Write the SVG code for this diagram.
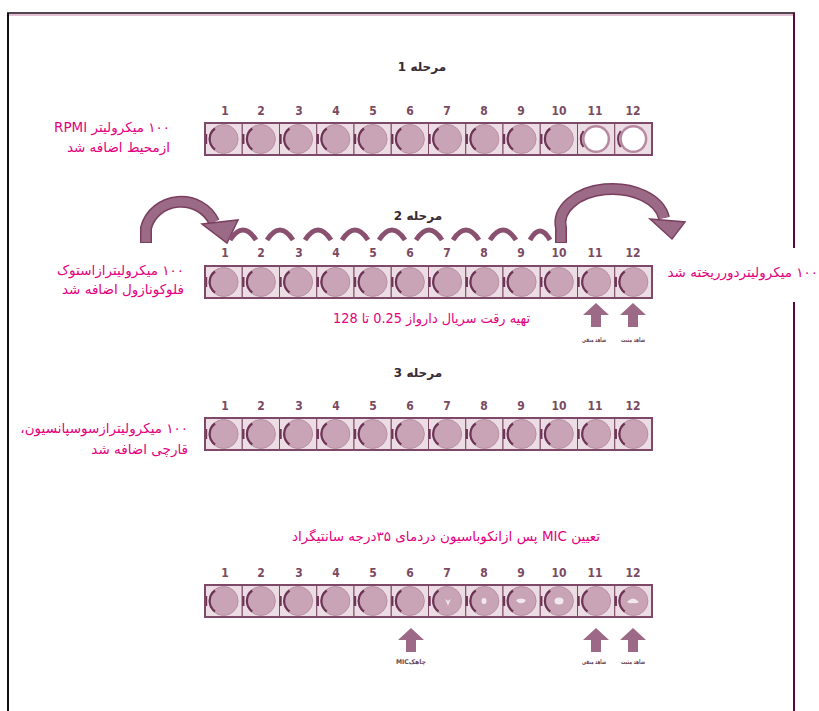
<svg xmlns="http://www.w3.org/2000/svg" xmlns:xlink="http://www.w3.org/1999/xlink" width="819" height="711" viewBox="0 0 819 711">
<style>
.num{font-family:"DejaVu Sans Condensed","DejaVu Sans",sans-serif;font-size:12px;font-weight:bold;fill:#7a4a62;text-anchor:middle}
.title{font-family:"DejaVu Sans",sans-serif;font-size:12px;font-weight:bold;fill:#3a2a33;text-anchor:middle}
.pink{font-family:"DejaVu Sans",sans-serif;font-size:13.5px;fill:#e5007d}
.small{font-family:"DejaVu Sans Condensed","DejaVu Sans",sans-serif;font-size:6.5px;font-weight:bold;fill:#6a4a5a;text-anchor:middle}
.strip{fill:none;stroke:#7e4868;stroke-width:2}
.up{fill:#9c6a86}
.hop{fill:none;stroke:#8a5070;stroke-width:5;stroke-linecap:butt}
.big{fill:none;stroke:#9a6a86;stroke-width:9}
.bigo{fill:none;stroke:#7a3f5e;stroke-width:12}
</style>
<defs>
<g id="well">
<rect x="0" y="0" width="37.25" height="32" fill="#ecdce4" stroke="#7e4868" stroke-width="1"/>
<circle cx="18.6" cy="16" r="14.5" fill="#c9a4b7" stroke="#b890a4" stroke-width="1"/>
<path d="M10 5.5 A13 13 0 0 0 10 26.5" fill="none" stroke="#6e3456" stroke-width="2.2"/>
<rect x="0" y="11" width="2.2" height="10" fill="#6e3456"/>
</g>
<g id="wellw">
<rect x="0" y="0" width="37.25" height="32" fill="#ecdce4" stroke="#7e4868" stroke-width="1"/>
<circle cx="18.6" cy="16" r="14" fill="#b88aa2"/>
<circle cx="18.6" cy="16" r="11.5" fill="#ffffff"/>
<path d="M6 8 A13 13 0 0 0 6 24" fill="none" stroke="#6e3456" stroke-width="2"/>
</g>
<path id="uparrow" d="M0 0 L13 12 L5 12 L5 24 L-5 24 L-5 12 L-13 12 Z"/>
</defs>

<g id="frame">
<line x1="7" y1="13" x2="795" y2="13" stroke="#1a0a14" stroke-width="1.5"/>
<line x1="8" y1="15" x2="794" y2="15" stroke="#d8aac2" stroke-width="1.5"/>
<line x1="8" y1="13" x2="8" y2="711" stroke="#111" stroke-width="2"/>
<line x1="794" y1="13" x2="794" y2="248" stroke="#5a0a3a" stroke-width="2"/>
<line x1="794" y1="302" x2="794" y2="711" stroke="#5a0a3a" stroke-width="2"/>
</g>

<!-- Stage 1 -->
<g id="stage1">
<text class="title" x="422" y="71" direction="rtl">مرحله 1</text>
<g class="nums">
<text class="num" x="225" y="115">1</text><text class="num" x="261" y="115">2</text><text class="num" x="299" y="115">3</text><text class="num" x="336" y="115">4</text><text class="num" x="373" y="115">5</text><text class="num" x="410" y="115">6</text><text class="num" x="447" y="115">7</text><text class="num" x="484" y="115">8</text><text class="num" x="521" y="115">9</text><text class="num" x="559" y="115">10</text><text class="num" x="595" y="115">11</text><text class="num" x="633" y="115">12</text>
</g>
<use xlink:href="#well" x="205" y="123"/><use xlink:href="#well" x="242.25" y="123"/><use xlink:href="#well" x="279.5" y="123"/><use xlink:href="#well" x="316.75" y="123"/><use xlink:href="#well" x="354" y="123"/><use xlink:href="#well" x="391.25" y="123"/><use xlink:href="#well" x="428.5" y="123"/><use xlink:href="#well" x="465.75" y="123"/><use xlink:href="#well" x="503" y="123"/><use xlink:href="#well" x="540.25" y="123"/><use xlink:href="#wellw" x="577.5" y="123"/><use xlink:href="#wellw" x="614.75" y="123"/>
<rect class="strip" x="205" y="123" width="447" height="32"/>
<text class="pink" x="170" y="132" direction="rtl" text-anchor="start">۱۰۰ میکرولیتر RPMI</text>
<text class="pink" x="170" y="152" direction="rtl" text-anchor="start">ازمحیط اضافه شد</text>
</g>

<!-- Stage 2 -->
<g id="stage2">
<text class="title" x="418" y="220" direction="rtl">مرحله 2</text>
<g class="nums">
<text class="num" x="225" y="257">1</text><text class="num" x="261" y="257">2</text><text class="num" x="299" y="257">3</text><text class="num" x="336" y="257">4</text><text class="num" x="373" y="257">5</text><text class="num" x="410" y="257">6</text><text class="num" x="447" y="257">7</text><text class="num" x="484" y="257">8</text><text class="num" x="521" y="257">9</text><text class="num" x="559" y="257">10</text><text class="num" x="595" y="257">11</text><text class="num" x="633" y="257">12</text>
</g>
<use xlink:href="#well" x="205" y="266"/><use xlink:href="#well" x="242.25" y="266"/><use xlink:href="#well" x="279.5" y="266"/><use xlink:href="#well" x="316.75" y="266"/><use xlink:href="#well" x="354" y="266"/><use xlink:href="#well" x="391.25" y="266"/><use xlink:href="#well" x="428.5" y="266"/><use xlink:href="#well" x="465.75" y="266"/><use xlink:href="#well" x="503" y="266"/><use xlink:href="#well" x="540.25" y="266"/><use xlink:href="#well" x="577.5" y="266"/><use xlink:href="#well" x="614.75" y="266"/>
<rect class="strip" x="205" y="266" width="447" height="32"/>
<text class="pink" x="184" y="275" direction="rtl" text-anchor="start">۱۰۰ میکرولیترازاستوک</text>
<text class="pink" x="184" y="294" direction="rtl" text-anchor="start">فلوکونازول اضافه شد</text>
<rect x="660" y="258" width="159" height="26" fill="#ffffff"/>
<text class="pink" x="818" y="277" direction="rtl" text-anchor="start">۱۰۰ میکرولیتردورریخته شد</text>
<text class="pink" x="530" y="323" direction="rtl" text-anchor="start" textLength="197" lengthAdjust="spacingAndGlyphs">تهیه رقت سریال دارواز 0.25 تا 128</text>
<use xlink:href="#uparrow" class="up" x="596" y="303"/>
<use xlink:href="#uparrow" class="up" x="633" y="303"/>
<text class="small" x="594" y="342" direction="rtl" textLength="24" lengthAdjust="spacingAndGlyphs">شاهد منفی</text>
<text class="small" x="633" y="342" direction="rtl" textLength="24" lengthAdjust="spacingAndGlyphs">شاهد مثبت</text>
</g>

<g id="connectors">
<path class="bigo" d="M146 243 L146 228 A36 34 0 0 1 214 222"/>
<path class="big" d="M146 242 L146 228 A36 34 0 0 1 214 222"/>
<path d="M202 224 L238 220 L227 243 Z" fill="#9a6a86" stroke="#7a3f5e" stroke-width="1.5"/>
<path class="bigo" d="M561 243 L561 228 A52 34 0 0 1 664 218"/>
<path class="big" d="M561 242 L561 228 A52 34 0 0 1 664 218"/>
<path d="M650 219 L685 222 L672 239 Z" fill="#9a6a86" stroke="#7a3f5e" stroke-width="1.5"/>
<path class="hop" d="M230 240 Q243 220 256 240"/>
<path class="hop" d="M267 240 Q280 220 293 240"/>
<path class="hop" d="M305 240 Q318 220 331 240"/>
<path class="hop" d="M342 240 Q355 220 368 240"/>
<path class="hop" d="M379 240 Q392 220 405 240"/>
<path class="hop" d="M416 240 Q429 220 442 240"/>
<path class="hop" d="M453 240 Q466 220 479 240"/>
<path class="hop" d="M490 240 Q503 220 516 240"/>
<path class="hop" d="M530 240 Q540 222 550 240"/>
</g>

<!-- Stage 3 -->
<g id="stage3">
<text class="title" x="418" y="377" direction="rtl">مرحله 3</text>
<g class="nums">
<text class="num" x="225" y="410">1</text><text class="num" x="261" y="410">2</text><text class="num" x="299" y="410">3</text><text class="num" x="336" y="410">4</text><text class="num" x="373" y="410">5</text><text class="num" x="410" y="410">6</text><text class="num" x="447" y="410">7</text><text class="num" x="484" y="410">8</text><text class="num" x="521" y="410">9</text><text class="num" x="559" y="410">10</text><text class="num" x="595" y="410">11</text><text class="num" x="633" y="410">12</text>
</g>
<use xlink:href="#well" x="205" y="418"/><use xlink:href="#well" x="242.25" y="418"/><use xlink:href="#well" x="279.5" y="418"/><use xlink:href="#well" x="316.75" y="418"/><use xlink:href="#well" x="354" y="418"/><use xlink:href="#well" x="391.25" y="418"/><use xlink:href="#well" x="428.5" y="418"/><use xlink:href="#well" x="465.75" y="418"/><use xlink:href="#well" x="503" y="418"/><use xlink:href="#well" x="540.25" y="418"/><use xlink:href="#well" x="577.5" y="418"/><use xlink:href="#well" x="614.75" y="418"/>
<rect class="strip" x="205" y="418" width="447" height="32"/>
<text class="pink" x="188" y="433" direction="rtl" text-anchor="start">۱۰۰ میکرولیترازسوسپانسیون،</text>
<text class="pink" x="188" y="454" direction="rtl" text-anchor="start">قارچی اضافه شد</text>
</g>

<!-- Stage 4 -->
<g id="stage4">
<text class="pink" x="600" y="541" direction="rtl" text-anchor="start">تعیین MIC پس ازانکوباسیون دردمای ۳۵درجه سانتیگراد</text>
<g class="nums">
<text class="num" x="225" y="577">1</text><text class="num" x="261" y="577">2</text><text class="num" x="299" y="577">3</text><text class="num" x="336" y="577">4</text><text class="num" x="373" y="577">5</text><text class="num" x="410" y="577">6</text><text class="num" x="447" y="577">7</text><text class="num" x="484" y="577">8</text><text class="num" x="521" y="577">9</text><text class="num" x="559" y="577">10</text><text class="num" x="595" y="577">11</text><text class="num" x="633" y="577">12</text>
</g>
<use xlink:href="#well" x="205" y="585"/><use xlink:href="#well" x="242.25" y="585"/><use xlink:href="#well" x="279.5" y="585"/><use xlink:href="#well" x="316.75" y="585"/><use xlink:href="#well" x="354" y="585"/><use xlink:href="#well" x="391.25" y="585"/><use xlink:href="#well" x="428.5" y="585"/><use xlink:href="#well" x="465.75" y="585"/><use xlink:href="#well" x="503" y="585"/><use xlink:href="#well" x="540.25" y="585"/><use xlink:href="#well" x="577.5" y="585"/><use xlink:href="#well" x="614.75" y="585"/>
<rect class="strip" x="205" y="585" width="447" height="32"/>
<g fill="#ffffff" opacity="0.75">
<path d="M445 599 l3 2 l3 -2 l-2 4 l-1 3 l-1 -3 z"/>
<ellipse cx="484" cy="601" rx="2.5" ry="3"/>
<path d="M516 600 q5 -3 10 0 q-2 4 -5 3 q-3 1 -5 -3 z"/>
<ellipse cx="559" cy="601" rx="4.5" ry="3.5"/>
<path d="M627 602 q6 -7 12 0 q-3 2 -6 1 q-3 1 -6 -1 z"/>
</g>
<use xlink:href="#uparrow" class="up" x="411" y="628"/>
<use xlink:href="#uparrow" class="up" x="596" y="628"/>
<use xlink:href="#uparrow" class="up" x="633" y="628"/>
<text class="small" x="411" y="664" direction="rtl" textLength="30" lengthAdjust="spacingAndGlyphs">چاهکMIC</text>
<text class="small" x="594" y="664" direction="rtl" textLength="24" lengthAdjust="spacingAndGlyphs">شاهد منفی</text>
<text class="small" x="633" y="664" direction="rtl" textLength="24" lengthAdjust="spacingAndGlyphs">شاهد مثبت</text>
</g>
</svg>
